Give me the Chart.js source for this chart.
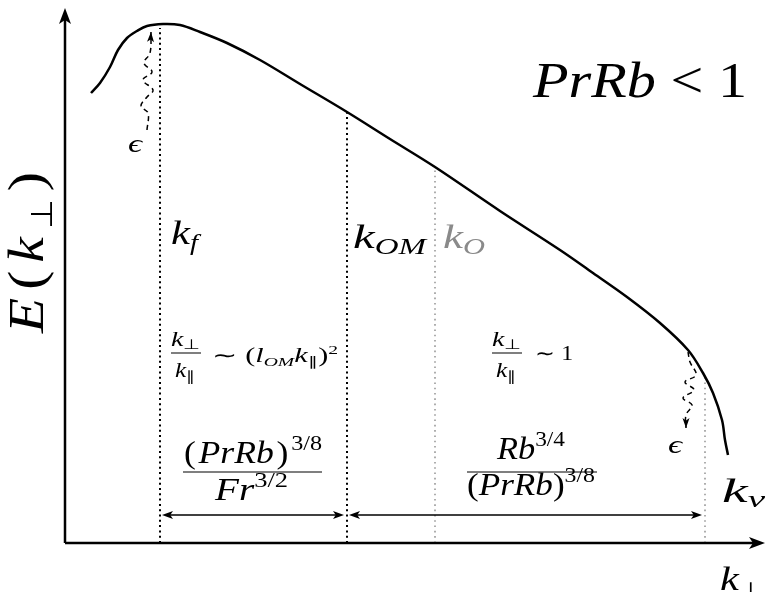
<!DOCTYPE html>
<html>
<head>
<meta charset="utf-8">
<script src="https://cdn.jsdelivr.net/npm/chart.js@4"></script>
<style>
  body { margin: 0; background: #fff; }
</style>
</head>
<body>
<canvas id="myChart" width="766" height="592"></canvas>
<script>
// --------------------------------------------------
// spectrum E(k_perp), arbitrary units
const kPerp = [26, 35, 45, 53, 62, 72, 82, 98, 115, 135, 162, 195, 235, 282, 325, 370, 435, 495, 528, 562, 595, 623, 638, 648, 657, 660, 663];
const energy = [450, 460, 476, 493, 505, 512, 517, 519, 518, 511, 500, 483, 459, 431, 404, 376, 332, 293, 270, 246, 220, 193, 170, 150, 123, 103, 88];

// characteristic wavenumbers + where their dotted line stops
const kf = 95, kOM = 282, kO = 370, kNu = 640;
const markerTop = { kf: 515, kOM: 431, kO: 376, kNu: 166 };

// injection squiggle (near kf) and dissipation squiggle (near kNu)
const injectK = [82, 83, 76, 82, 88, 78, 87, 79, 85, 86];
const injectE = [413, 430, 437, 446, 453, 463, 471, 480, 490, 511];
const dissipK = [623, 625, 631, 620, 629, 618, 627, 621, 621];
const dissipE = [191, 181, 168, 161, 153, 145, 138, 128, 115];

// height of the two range arrows
const spanLevel = 28;

// --------------------------------------------------
const SERIF = '"Liberation Serif", "Times New Roman", serif';
function font(size, italic) {
  return (italic ? "italic " : "") + size + "px " + SERIF;
}

// parts: [text, size, italic, dy]
// stretched to `width`; with maxSx the stretch is capped and the rest goes between parts
function mathText(ctx, parts, x, y, width, color, maxSx) {
  ctx.save();
  let w = 0;
  parts.forEach((p) => {
    ctx.font = font(p[1], p[2]);
    w += ctx.measureText(p[0]).width;
  });
  let sx = 1, gap = 0;
  if (width) {
    sx = width / w;
    if (maxSx && parts.length > 1 && sx > maxSx) {
      sx = maxSx;
      gap = (width - w * sx) / (parts.length - 1);
    }
  }
  ctx.translate(x, y);
  ctx.fillStyle = color || "#000";
  ctx.textBaseline = "alphabetic";
  let cx = 0;
  parts.forEach((p) => {
    ctx.font = font(p[1], p[2]);
    ctx.save();
    ctx.translate(cx, p[3] || 0);
    ctx.scale(sx, 1);
    ctx.fillText(p[0], 0, 0);
    ctx.restore();
    cx += ctx.measureText(p[0]).width * sx + gap;
  });
  ctx.restore();
}

function head(ctx, x, y, ang, len, half) {
  ctx.save();
  ctx.translate(x, y);
  ctx.rotate(ang);
  ctx.beginPath();
  ctx.moveTo(0, 0);
  ctx.lineTo(-len, -half);
  ctx.lineTo(-len * 0.75, 0);
  ctx.lineTo(-len, half);
  ctx.closePath();
  ctx.fill();
  ctx.restore();
}

function pts(xs, ys) {
  return xs.map((x, i) => ({ x: x, y: ys[i] }));
}
function vline(k, top) {
  return [{ x: k, y: 0 }, { x: k, y: top }];
}

// --------------------------------------------------
const sketch = {
  id: "sketch",
  afterDatasetsDraw(chart) {
    const ctx = chart.ctx;
    const { left, right, top, bottom } = chart.chartArea;
    const xs = chart.scales.x, ys = chart.scales.y;
    ctx.save();
    ctx.strokeStyle = "#000";
    ctx.fillStyle = "#000";

    // axes
    ctx.lineWidth = 2.5;
    ctx.beginPath();
    ctx.moveTo(left, bottom);
    ctx.lineTo(left, top + 12);
    ctx.moveTo(left, bottom);
    ctx.lineTo(right - 12, bottom);
    ctx.stroke();
    head(ctx, left, top, -Math.PI / 2, 16, 6);
    head(ctx, right, bottom, 0, 16, 6);

    // arrowheads on the squiggles
    chart.data.datasets.forEach((ds, i) => {
      if (!ds.arrowEnd) return;
      const d = chart.getDatasetMeta(i).data;
      const a = d[d.length - 2], b = d[d.length - 1];
      head(ctx, b.x, b.y, Math.atan2(b.y - a.y, b.x - a.x), 10, 3.5);
    });

    // range arrows
    const yA = ys.getPixelForValue(spanLevel);
    ctx.lineWidth = 1.3;
    [[kf, kOM], [kOM, kNu]].forEach((s) => {
      const x1 = xs.getPixelForValue(s[0]) + 2;
      const x2 = xs.getPixelForValue(s[1]) - 3;
      ctx.beginPath();
      ctx.moveTo(x1 + 4, yA);
      ctx.lineTo(x2 - 4, yA);
      ctx.stroke();
      head(ctx, x1, yA, Math.PI, 11, 4);
      head(ctx, x2, yA, 0, 11, 4);
    });

    // fraction bars
    ctx.lineWidth = 1.1;
    ctx.beginPath();
    ctx.moveTo(171, 353); ctx.lineTo(201, 353);
    ctx.moveTo(492, 353); ctx.lineTo(522, 353);
    ctx.moveTo(183, 472); ctx.lineTo(322, 472);
    ctx.moveTo(467, 472); ctx.lineTo(597, 472);
    ctx.stroke();

    // labels
    mathText(ctx, [["PrRb", 51, true], [" < ", 51, false], ["1", 51, false]], 533, 97, 214, null, 1.18);

    ctx.save();
    ctx.translate(43, 333);
    ctx.rotate(-Math.PI / 2);
    mathText(ctx, [["E", 50, true], ["(", 50, false], ["k", 50, true], ["\u22A5", 30, false, 9], [")", 50, false]], 0, 0, 161, null, 1.15);
    ctx.restore();

    mathText(ctx, [["\u03F5", 26, true]], 128, 152, 14);
    mathText(ctx, [["\u03F5", 26, true]], 668, 453, 14);

    mathText(ctx, [["k", 34, true], ["f", 23, true, 6]], 171, 244, 27);
    mathText(ctx, [["k", 34, true], ["OM", 23, true, 6]], 353, 248, 73);
    mathText(ctx, [["k", 34, true], ["O", 23, true, 6]], 443, 248, 42, "#8a8a8a");
    mathText(ctx, [["k", 34, true], ["\u03BD", 23, true, 5]], 722, 502, 43);
    mathText(ctx, [["k", 33, true], ["\u22A5", 21, false, 7]], 720, 590, 42);

    // k_perp / k_par ~ (l_OM k_par)^2
    mathText(ctx, [["k", 20, true], ["\u22A5", 14, false, 3]], 171, 346, 29);
    mathText(ctx, [["k", 20, true], ["\u2225", 14, false, 4]], 175, 377, 20);
    mathText(ctx, [["\u223C", 20, false], [" (", 20, false], ["l", 20, true], ["OM", 13, true, 4], ["k", 20, true], ["\u2225", 13, false, 4], [")", 20, false], ["2", 13, false, -8]], 212, 362, 126);

    // k_perp / k_par ~ 1
    mathText(ctx, [["k", 20, true], ["\u22A5", 14, false, 3]], 492, 346, 29);
    mathText(ctx, [["k", 20, true], ["\u2225", 14, false, 4]], 496, 377, 20);
    mathText(ctx, [["\u223C", 20, false], [" 1", 20, false]], 535, 360, 38);

    // (PrRb)^{3/8} / Fr^{3/2}
    mathText(ctx, [["(", 31, false], ["PrRb", 31, true], [")", 31, false], ["3/8", 21, false, -13]], 184, 463, 138, null, 1.15);
    mathText(ctx, [["Fr", 31, true], ["3/2", 21, false, -13]], 215, 500, 73);

    // Rb^{3/4} / (PrRb)^{3/8}
    mathText(ctx, [["Rb", 31, true], ["3/4", 21, false, -13]], 497, 459, 68);
    mathText(ctx, [["(", 31, false], ["PrRb", 31, true], [")", 31, false], ["3/8", 21, false, -13]], 467, 495, 128, null, 1.15);

    ctx.restore();
  },
};

// --------------------------------------------------
const dotted = (color, w) => ({
  showLine: true,
  pointRadius: 0,
  borderColor: color,
  borderWidth: w,
  borderDash: [w, 5.3 - w],
});

const ctx = document.getElementById("myChart").getContext("2d");
const myChart = new Chart(ctx, {
  type: "scatter",
  data: {
    datasets: [
      {
        data: pts(kPerp, energy),
        showLine: true,
        pointRadius: 0,
        borderColor: "#000",
        borderWidth: 2.5,
        tension: 0.35,
      },
      { data: vline(kf, markerTop.kf), ...dotted("#000", 2) },
      { data: vline(kOM, markerTop.kOM), ...dotted("#000", 2) },
      { data: vline(kO, markerTop.kO), ...dotted("#9a9a9a", 1.6) },
      { data: vline(kNu, markerTop.kNu), ...dotted("#9a9a9a", 1.6) },
      {
        data: pts(injectK, injectE),
        showLine: true,
        pointRadius: 0,
        borderColor: "#000",
        borderWidth: 1.5,
        borderDash: [5, 4],
        tension: 0.4,
        arrowEnd: true,
      },
      {
        data: pts(dissipK, dissipE),
        showLine: true,
        pointRadius: 0,
        borderColor: "#000",
        borderWidth: 1.5,
        borderDash: [5, 4],
        tension: 0.4,
        arrowEnd: true,
      },
    ],
  },
  options: {
    responsive: false,
    animation: false,
    layout: { padding: { left: 65, right: 1, top: 8, bottom: 49 } },
    plugins: {
      legend: { display: false },
      tooltip: { enabled: false },
    },
    scales: {
      x: { type: "linear", min: 0, max: 700, display: false },
      y: { type: "linear", min: 0, max: 535, display: false },
    },
  },
  plugins: [sketch],
});
</script>
</body>
</html>
